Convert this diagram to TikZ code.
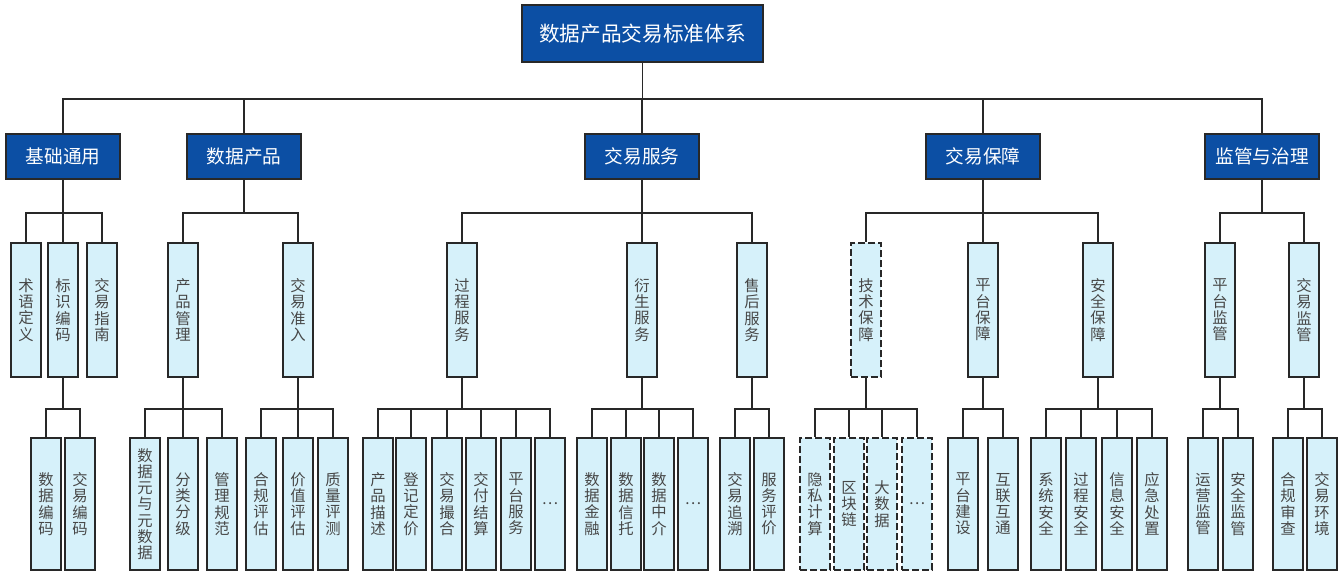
\documentclass[tikz,border=0pt]{standalone}
\usepackage{fontspec}
\setmainfont{Noto Sans CJK SC}
\usepackage{tikz}

\definecolor{topblue}{RGB}{12,79,164}
\definecolor{boxcyan}{RGB}{214,241,250}
\definecolor{linegray}{RGB}{40,40,40}

\tikzset{
    rootbox/.style={draw=linegray, fill=topblue, text=white, line width=1.2pt,
        inner sep=0pt, minimum width=180.75pt, minimum height=42.75pt,
        font=\fontsize{15.5}{18}\selectfont},
    headbox/.style={rootbox, minimum width=85.5pt, minimum height=33.75pt,
        font=\fontsize{14}{16}\selectfont},
    midbox/.style={draw=linegray, fill=boxcyan, line width=1.3pt, inner sep=0pt,
        minimum width=22.5pt, minimum height=100.5pt, align=center,
        text=black!72, font=\fontsize{11.5}{12.2}\selectfont},
    leafbox/.style={midbox, minimum height=99pt},
    dashbox/.style={dash pattern=on 5pt off 2.5pt},
    link/.style={draw=linegray, line width=1.4pt}
}

\begin{document}
\begin{tikzpicture}[x=0.75pt, y=-0.75pt]
    \useasboundingbox (0,0) rectangle (1341,572);

    % 顶层
    \node[rootbox] (root) at (642.5,33.5) {数据产品交易标准体系};

    % 第一层
    \node[headbox] (jc) at (63,156.5)   {基础通用};
    \node[headbox] (cp) at (244,156.5)  {数据产品};
    \node[headbox] (fw) at (642,156.5)  {交易服务};
    \node[headbox] (bz) at (983,156.5)  {交易保障};
    \node[headbox] (jg) at (1262,156.5) {监管与治理};

    % 第二层
    \node[midbox] (jc1) at (26,310)   {术\\语\\定\\义};
    \node[midbox] (jc2) at (63,310)   {标\\识\\编\\码};
    \node[midbox] (jc3) at (102,310)  {交\\易\\指\\南};
    \node[midbox] (cp1) at (183,310)  {产\\品\\管\\理};
    \node[midbox] (cp2) at (298,310)  {交\\易\\准\\入};
    \node[midbox] (fw1) at (462,310)  {过\\程\\服\\务};
    \node[midbox] (fw2) at (642,310)  {衍\\生\\服\\务};
    \node[midbox] (fw3) at (752,310)  {售\\后\\服\\务};
    \node[midbox,dashbox] (bz1) at (866,310) {技\\术\\保\\障};
    \node[midbox] (bz2) at (983,310)  {平\\台\\保\\障};
    \node[midbox] (bz3) at (1098,310) {安\\全\\保\\障};
    \node[midbox] (jg1) at (1220,310) {平\\台\\监\\管};
    \node[midbox] (jg2) at (1304,310) {交\\易\\监\\管};

    % 第三层
    \node[leafbox] (jc2a) at (46,504)  {数\\据\\编\\码};
    \node[leafbox] (jc2b) at (80,504)  {交\\易\\编\\码};

    \node[leafbox] (cp1a) at (145,504) {数\\据\\元\\与\\元\\数\\据};
    \node[leafbox] (cp1b) at (183,504) {分\\类\\分\\级};
    \node[leafbox] (cp1c) at (222,504) {管\\理\\规\\范};
    \node[leafbox] (cp2a) at (261,504) {合\\规\\评\\估};
    \node[leafbox] (cp2b) at (298,504) {价\\值\\评\\估};
    \node[leafbox] (cp2c) at (333,504) {质\\量\\评\\测};

    \node[leafbox] (fw1a) at (378,504) {产\\品\\描\\述};
    \node[leafbox] (fw1b) at (411,504) {登\\记\\定\\价};
    \node[leafbox] (fw1c) at (447,504) {交\\易\\撮\\合};
    \node[leafbox] (fw1d) at (481,504) {交\\付\\结\\算};
    \node[leafbox] (fw1e) at (516,504) {平\\台\\服\\务};
    \node[leafbox] (fw1f) at (550,504) {…};
    \node[leafbox] (fw2a) at (592,504) {数\\据\\金\\融};
    \node[leafbox] (fw2b) at (626,504) {数\\据\\信\\托};
    \node[leafbox] (fw2c) at (659,504) {数\\据\\中\\介};
    \node[leafbox] (fw2d) at (693,504) {…};
    \node[leafbox] (fw3a) at (735,504) {交\\易\\追\\溯};
    \node[leafbox] (fw3b) at (769,504) {服\\务\\评\\价};

    \node[leafbox,dashbox] (bz1a) at (815,504) {隐\\私\\计\\算};
    \node[leafbox,dashbox] (bz1b) at (849,504) {区\\块\\链};
    \node[leafbox,dashbox] (bz1c) at (882,504) {大\\数\\据};
    \node[leafbox,dashbox] (bz1d) at (917,504) {…};
    \node[leafbox] (bz2a) at (963,504)  {平\\台\\建\\设};
    \node[leafbox] (bz2b) at (1003,504) {互\\联\\互\\通};
    \node[leafbox] (bz3a) at (1046,504) {系\\统\\安\\全};
    \node[leafbox] (bz3b) at (1081,504) {过\\程\\安\\全};
    \node[leafbox] (bz3c) at (1117,504) {信\\息\\安\\全};
    \node[leafbox] (bz3d) at (1152,504) {应\\急\\处\\置};

    \node[leafbox] (jg1a) at (1203,504) {运\\营\\监\\管};
    \node[leafbox] (jg1b) at (1238,504) {安\\全\\监\\管};
    \node[leafbox] (jg2a) at (1288,504) {合\\规\\审\\查};
    \node[leafbox] (jg2b) at (1322,504) {交\\易\\环\\境};

    % 连线
    \foreach \c in {jc,cp,fw,bz,jg}
        \draw[link] (root.south) -- ++(0,36) -| (\c.north);

    \foreach \p/\cs in {jc/{jc1,jc2,jc3}, cp/{cp1,cp2}, fw/{fw1,fw2,fw3},
                        bz/{bz1,bz2,bz3}, jg/{jg1,jg2}}
        \foreach \c in \cs
            \draw[link] (\p.south) -- ++(0,33) -| (\c.north);

    \foreach \p/\cs in {jc2/{jc2a,jc2b}, cp1/{cp1a,cp1b,cp1c}, cp2/{cp2a,cp2b,cp2c},
                        fw1/{fw1a,fw1b,fw1c,fw1d,fw1e,fw1f}, fw2/{fw2a,fw2b,fw2c,fw2d},
                        fw3/{fw3a,fw3b}, bz1/{bz1a,bz1b,bz1c,bz1d}, bz2/{bz2a,bz2b},
                        bz3/{bz3a,bz3b,bz3c,bz3d}, jg1/{jg1a,jg1b}, jg2/{jg2a,jg2b}}
        \foreach \c in \cs
            \draw[link] (\p.south) -- ++(0,31) -| (\c.north);
\end{tikzpicture}
\end{document}
